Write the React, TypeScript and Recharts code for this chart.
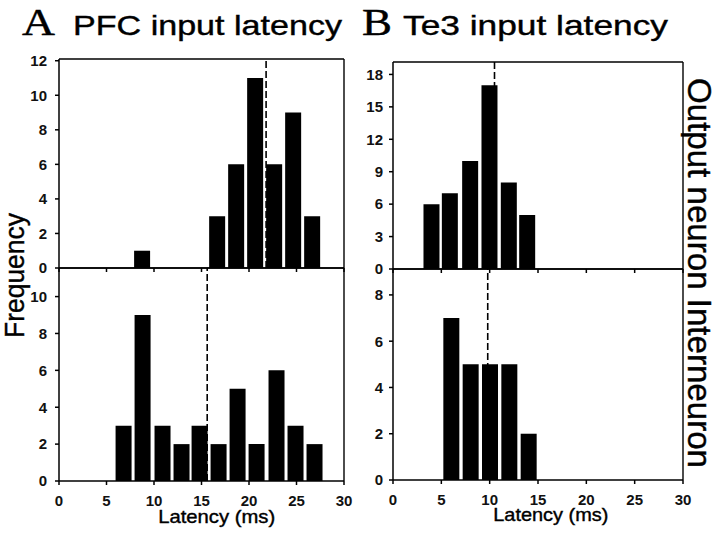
import React from "react";
import { BarChart, Bar, XAxis, YAxis, ReferenceLine } from "recharts";

// bin centres (ms) and counts
const pfcOutputBins = [8.8, 16.7, 18.7, 20.7, 22.7, 24.7, 26.7];
const pfcOutputCounts = [1, 3, 6, 11, 6, 9, 3];
const pfcInterBins = [6.8, 8.8, 10.9, 12.9, 14.8, 16.8, 18.8, 20.8, 22.9, 24.9, 26.9];
const pfcInterCounts = [3, 9, 3, 2, 3, 2, 5, 2, 6, 3, 2];
const te3OutputBins = [4.0, 5.9, 8.0, 10.0, 12.0, 13.9];
const te3OutputCounts = [6, 7, 10, 17, 8, 5];
const te3InterBins = [6.0, 8.0, 10.0, 12.0, 14.0];
const te3InterCounts = [7, 5, 5, 5, 2];

// median latency (dashed lines)
const medians = { pfcOutput: 21.8, pfcInter: 15.6, te3Output: 10.5, te3Inter: 9.8 };

const xTicks = [0, 5, 10, 15, 20, 25, 30];
const pfcOutputTicks = [0, 2, 4, 6, 8, 10, 12];
const pfcInterTicks = [0, 2, 4, 6, 8, 10];
const te3OutputTicks = [0, 3, 6, 9, 12, 15, 18];
const te3InterTicks = [0, 2, 4, 6, 8];

const SANS = "'Liberation Sans', Arial, Helvetica, sans-serif";
const SERIF = "'Liberation Serif', 'Times New Roman', serif";

const toRows = (bins: number[], counts: number[]) =>
  bins.map((x, i) => ({ x, count: counts[i] }));

interface PanelProps {
  left: number;
  top: number;
  height: number;
  margin: { top: number; right: number; bottom: number; left: number };
  xAxisHeight: number;
  yTickMargin: number;
  yMax: number;
  yTicks: number[];
  rows: { x: number; count: number }[];
  median: number;
  showXLabels: boolean;
}

function Panel({
  left,
  top,
  height,
  margin,
  xAxisHeight,
  yTickMargin,
  yMax,
  yTicks,
  rows,
  median,
  showXLabels,
}: PanelProps) {
  const tickStyle = { fontFamily: SANS, fontSize: 15, fontWeight: 700, fill: "#111" };
  const line = { stroke: "#000", strokeWidth: 1.5 };
  return (
    <div style={{ position: "absolute", left, top }}>
      <BarChart width={360} height={height} data={rows} margin={margin}>
        <XAxis
          dataKey="x"
          type="number"
          domain={[0, 30]}
          ticks={xTicks}
          allowDataOverflow
          height={xAxisHeight}
          tickSize={4}
          tickMargin={10}
          tick={tickStyle}
          tickFormatter={(v: number) => (showXLabels ? String(v) : "")}
          axisLine={line}
          tickLine={line}
        />
        <YAxis
          type="number"
          domain={[0, yMax]}
          ticks={yTicks}
          allowDataOverflow
          width={59}
          tickSize={4}
          tickMargin={yTickMargin}
          tick={tickStyle}
          axisLine={line}
          tickLine={line}
        />
        <Bar dataKey="count" fill="#000" barSize={16} isAnimationActive={false} />
        <ReferenceLine y={yMax} stroke="#000" strokeWidth={1.4} />
        <ReferenceLine x={30} stroke="#000" strokeWidth={1.4} />
        <ReferenceLine
          x={median}
          stroke="#000"
          strokeWidth={1.6}
          strokeDasharray="7 3"
        />
      </BarChart>
    </div>
  );
}

export default function App() {
  return (
    <div
      style={{
        position: "absolute",
        left: 0,
        top: 0,
        width: 720,
        height: 534,
        background: "#fff",
        overflow: "hidden",
      }}
    >
      {/* A: PFC */}
      <Panel
        left={0}
        top={40}
        height={240}
        margin={{ top: 19, right: 16, bottom: 0, left: 0 }}
        xAxisHeight={12}
        yTickMargin={8}
        yMax={12.1}
        yTicks={pfcOutputTicks}
        rows={toRows(pfcOutputBins, pfcOutputCounts)}
        median={medians.pfcOutput}
        showXLabels={false}
      />
      <Panel
        left={0}
        top={250}
        height={284}
        margin={{ top: 18, right: 16, bottom: 0, left: 0 }}
        xAxisHeight={53}
        yTickMargin={8}
        yMax={11.55}
        yTicks={pfcInterTicks}
        rows={toRows(pfcInterBins, pfcInterCounts)}
        median={medians.pfcInter}
        showXLabels
      />
      {/* B: Te3 */}
      <Panel
        left={334}
        top={40}
        height={240}
        margin={{ top: 22, right: 11, bottom: 0, left: 0 }}
        xAxisHeight={11}
        yTickMargin={6}
        yMax={19.15}
        yTicks={te3OutputTicks}
        rows={toRows(te3OutputBins, te3OutputCounts)}
        median={medians.te3Output}
        showXLabels={false}
      />
      <Panel
        left={334}
        top={250}
        height={284}
        margin={{ top: 19, right: 11, bottom: 0, left: 0 }}
        xAxisHeight={54}
        yTickMargin={6}
        yMax={9.12}
        yTicks={te3InterTicks}
        rows={toRows(te3InterBins, te3InterCounts)}
        median={medians.te3Inter}
        showXLabels
      />

      {/* titles and axis captions */}
      <svg
        width={720}
        height={534}
        style={{ position: "absolute", left: 0, top: 0, pointerEvents: "none" }}
      >
        <g fill="#000" stroke="#000" strokeWidth={0.4}>
          <text x={22} y={35} fontFamily={SERIF} fontSize={37} textLength={33} lengthAdjust="spacingAndGlyphs">
            A
          </text>
          <text x={73} y={35} fontFamily={SANS} fontSize={28} textLength={269} lengthAdjust="spacingAndGlyphs">
            PFC input latency
          </text>
          <text x={362} y={35} fontFamily={SERIF} fontSize={37} textLength={30} lengthAdjust="spacingAndGlyphs">
            B
          </text>
          <text x={403} y={35} fontFamily={SANS} fontSize={28} textLength={265} lengthAdjust="spacingAndGlyphs">
            Te3 input latency
          </text>
          <text
            x={24}
            y={275.5}
            transform="rotate(-90, 24, 275.5)"
            textAnchor="middle"
            fontFamily={SANS}
            fontSize={27}
            textLength={125}
            lengthAdjust="spacingAndGlyphs"
          >
            Frequency
          </text>
          <text
            x={688}
            y={273}
            transform="rotate(90, 688, 273)"
            textAnchor="middle"
            fontFamily={SANS}
            fontSize={33}
            textLength={390}
            lengthAdjust="spacingAndGlyphs"
          >
            Output neuron Interneuron
          </text>
          <text x={216.7} y={523} textAnchor="middle" fontFamily={SANS} fontSize={18.6} textLength={117} lengthAdjust="spacingAndGlyphs">
            Latency (ms)
          </text>
          <text x={550.8} y={521} textAnchor="middle" fontFamily={SANS} fontSize={18.6} textLength={115} lengthAdjust="spacingAndGlyphs">
            Latency (ms)
          </text>
        </g>
      </svg>
    </div>
  );
}
